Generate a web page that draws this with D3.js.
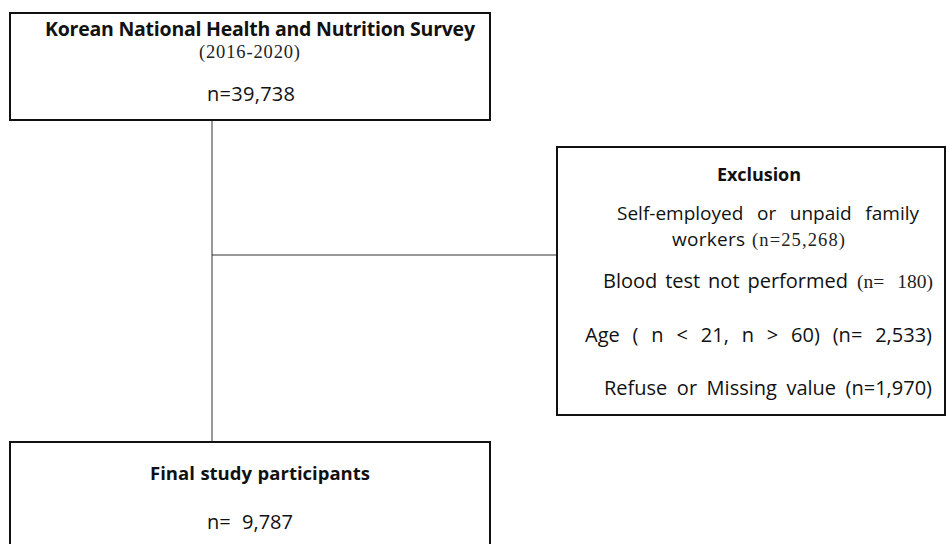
<!DOCTYPE html>
<html lang="en">
<head>
    <meta charset="UTF-8">
    <title>Study flow chart</title>
    <script src="https://d3js.org/d3.v7.min.js"></script>
    <style>
        body { margin: 0; background: #fff; }
        svg { display: block; }
        .box { fill: #fff; stroke: #111; stroke-width: 2; }
        .link { stroke: #333; stroke-width: 1; fill: none; }
        .sans { font-family: "Open Sans", "Noto Sans", sans-serif; fill: #111; }
        .serif { font-family: "Liberation Serif", "DejaVu Serif", serif; fill: #222; }
        .bold { font-weight: 700; }
    </style>
</head>
<body>
<div id="chart"></div>
<script>
// flow chart content
const sourceTitle = "Korean National Health and Nutrition Survey";
const sourceYears = "(2016-2020)";
const sourceCount = "n=39,738";

const exclusionTitle = "Exclusion";
const exclusionReasons = ["Self-employed or unpaid family", "workers", "Blood test not performed", "Age ( n < 21, n > 60)", "Refuse or Missing value"];
const exclusionCounts = ["", "(n=25,268)", "(n= 180)", "(n= 2,533)", "(n=1,970)"];

const finalTitle = "Final study participants";
const finalCount = "n= 9,787";

const W = 949, H = 544;
const svg = d3.select('#chart').append('svg')
    .attr('width', W)
    .attr('height', H);

// box layout
const boxes = {
    source: { x: 10, y: 13, w: 480, h: 107 },
    excl:   { x: 557, y: 147, w: 388, h: 268 },
    final:  { x: 10, y: 442, w: 480, h: 120 }
};
const trunkX = 212;
const branchY = 255;

// connector lines first so boxes sit on top
svg.append('line').attr('class', 'link')
    .attr('x1', trunkX).attr('x2', trunkX)
    .attr('y1', boxes.source.y + boxes.source.h).attr('y2', boxes.final.y);
svg.append('line').attr('class', 'link')
    .attr('x1', trunkX).attr('x2', boxes.excl.x)
    .attr('y1', branchY).attr('y2', branchY);

svg.selectAll('rect.box')
    .data(Object.values(boxes))
  .enter().append('rect')
    .attr('class', 'box')
    .attr('x', d => d.x)
    .attr('y', d => d.y)
    .attr('width', d => d.w)
    .attr('height', d => d.h);

// text helper: place a string between x0 and x1 on a baseline,
// stretching the gaps between words (like the justified original)
function label(txt, x0, x1, y, cls, size) {
    if (!txt) return;
    const t = svg.append('text')
        .attr('class', cls)
        .attr('x', x0)
        .attr('y', y)
        .attr('font-size', size)
        .text(txt);
    const natural = t.node().getComputedTextLength();
    const gaps = (txt.match(/ /g) || []).length;
    const extra = (x1 - x0) - natural;
    if (gaps > 0 && extra > 0) {
        t.attr('word-spacing', extra / gaps);
    } else {
        t.attr('textLength', x1 - x0).attr('lengthAdjust', 'spacing');
    }
}

// source box
label(sourceTitle, 45, 475, 36, 'sans bold', 19.5);
label(sourceYears, 199, 300, 58, 'serif', 18.5);
label(sourceCount, 207, 295, 101, 'sans', 20);

// exclusion box
label(exclusionTitle, 717, 801, 181, 'sans bold', 18);
// first two reasons mix a sans label with a serif count; the last two are one sans line
const reasonSpans = [
    { r: [617, 919], c: null, y: 220, s: 19 },
    { r: [672, 745], c: [752, 845], y: 246, s: 19 },
    { r: [603, 848], c: [857, 933], y: 288, s: 20 },
    { r: [585, 932], c: null, y: 342, s: 20 },
    { r: [604, 932], c: null, y: 395, s: 20 }
];
exclusionReasons.forEach((txt, i) => {
    const s = reasonSpans[i];
    if (s.c || !exclusionCounts[i]) {
        label(txt, s.r[0], s.r[1], s.y, 'sans', s.s);
        if (s.c) label(exclusionCounts[i], s.c[0], s.c[1], s.y, 'serif', s.s - 0.5);
    } else {
        label(txt + " " + exclusionCounts[i], s.r[0], s.r[1], s.y, 'sans', s.s);
    }
});

// final box
label(finalTitle, 150, 370, 480, 'sans bold', 18.5);
label(finalCount, 207, 293, 529, 'sans', 20);
</script>
</body>
</html>
